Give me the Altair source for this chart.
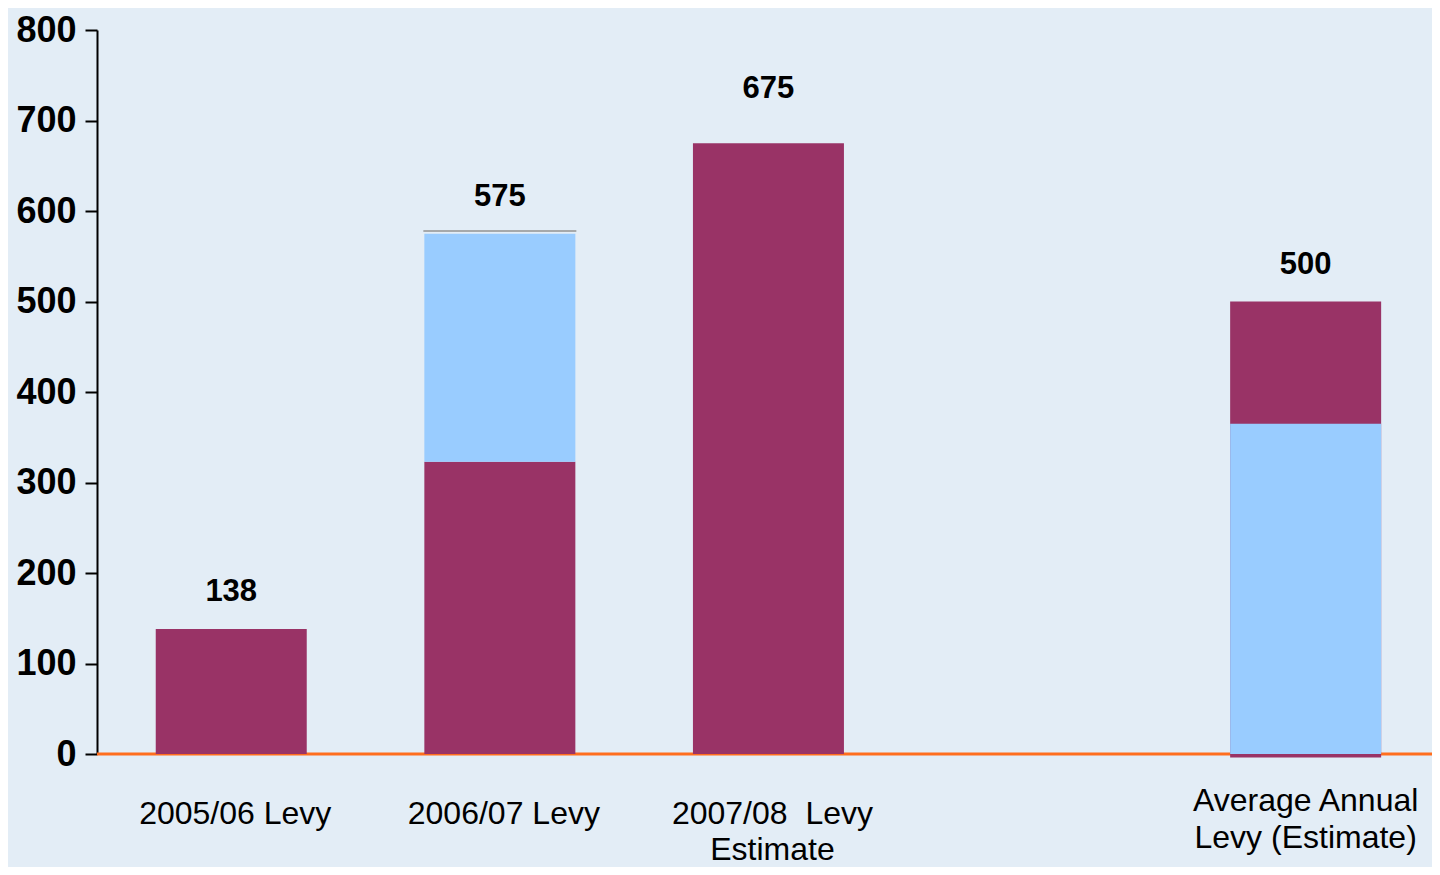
import altair as alt
import pandas as pd

# ---- data ----
cat_keys = ["2005/06", "2006/07", "2007/08", "gap", "Average"]
cat_labels = ["2005/06 Levy", "2006/07 Levy", "2007/08\u00a0 Levy\nEstimate", "", "Average Annual\nLevy (Estimate)"]

seg_category = ["2005/06", "2006/07", "2006/07", "2007/08", "Average", "Average"]
seg_start = [0, 0, 323, 0, -4, 0]
seg_end = [138, 323, 575, 675, 500, 365]
seg_series = ["Part A", "Part A", "Part B", "Part A", "Part A", "Part B"]

total_category = ["2005/06", "2006/07", "2007/08", "Average"]
total_value = [138, 575, 675, 500]

outline_category = ["2006/07"]
outline_value = [578]

# ---- frames ----
segs = pd.DataFrame({"cat": seg_category, "start": seg_start, "end": seg_end, "series": seg_series})
totals = pd.DataFrame({"cat": total_category, "total": total_value})
outline = pd.DataFrame({"cat": outline_category, "v": outline_value})
labels = pd.DataFrame({"cat": cat_keys, "label": cat_labels})

FONT = "Liberation Sans, Arial, sans-serif"
W, H = 1335, 724

xscale = alt.Scale(domain=cat_keys, paddingInner=0.4378, paddingOuter=0.204, align=0.536)
yscale = alt.Scale(domain=[0, 800], nice=False)

x_enc = alt.X("cat:N", scale=xscale, axis=None, sort=cat_keys)

base_rule = alt.Chart(pd.DataFrame({"z": [0]})).mark_rule(
    color="#FF6E1E", strokeWidth=3
).encode(
    y=alt.Y("z:Q", scale=yscale,
            axis=alt.Axis(values=list(range(0, 801, 100)), title=None, grid=False,
                          labelFontSize=36, labelFontWeight="bold", labelColor="black",
                          labelFont=FONT, labelPadding=9, tickSize=12, tickWidth=2,
                          tickColor="black", domainColor="black", domainWidth=2)),
    x=alt.value(0),
    x2=alt.value(W),
)

bars = alt.Chart(segs).mark_bar(size=151).encode(
    x=x_enc,
    y=alt.Y("start:Q", scale=yscale),
    y2="end:Q",
    color=alt.Color("series:N", scale=alt.Scale(domain=["Part A", "Part B"],
                                                range=["#993366", "#99CCFF"]), legend=None),
)

top_line = alt.Chart(outline).mark_tick(
    color="#8C8C8C", thickness=2, size=153, orient="horizontal"
).encode(x=x_enc, y=alt.Y("v:Q", scale=yscale))

value_text = alt.Chart(totals).transform_filter("datum.cat != '2007/08'").mark_text(
    font=FONT, fontSize=31, fontWeight="bold", color="black",
    baseline="alphabetic", dy=-28
).encode(x=x_enc, y=alt.Y("total:Q", scale=yscale), text="total:Q")

value_text_hi = alt.Chart(totals).transform_filter("datum.cat == '2007/08'").mark_text(
    font=FONT, fontSize=31, fontWeight="bold", color="black",
    baseline="alphabetic", dy=-45
).encode(x=x_enc, y=alt.Y("total:Q", scale=yscale), text="total:Q")

cat_text = alt.Chart(labels).transform_filter(
    "datum.cat != 'Average' && datum.cat != 'gap'"
).mark_text(
    font=FONT, fontSize=32, color="black", baseline="alphabetic",
    lineBreak="\n", lineHeight=36, dy=70, dx=4
).encode(x=x_enc, y=alt.datum(0), text="label:N")

avg_text = alt.Chart(labels).transform_filter(
    "datum.cat == 'Average'"
).mark_text(
    font=FONT, fontSize=32, color="black", baseline="alphabetic",
    lineBreak="\n", lineHeight=37, dy=57
).encode(x=x_enc, y=alt.datum(0), text="label:N")

chart = alt.layer(base_rule, bars, top_line, value_text, value_text_hi, cat_text, avg_text).properties(
    width=W,
    height=H,
    autosize=alt.AutoSizeParams(type="none"),
    padding={"left": 89, "top": 22, "right": 0, "bottom": 113},
    background="#E3EDF6",
).configure_view(stroke=None)

chart.save("out.html", embed_options={"renderer": "svg", "actions": False})
